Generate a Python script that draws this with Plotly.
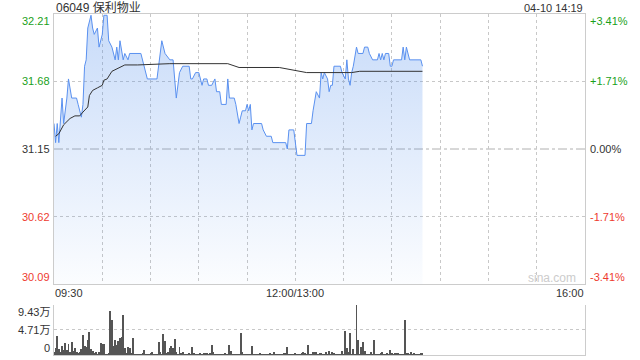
import plotly.graph_objects as go

# ---------------- data ----------------
prev_close = 31.15
price_min, price_max = 30.09, 32.21
pct_labels = ["+3.41%", "+1.71%", "0.00%", "-1.71%", "-3.41%"]
price_ticks = [32.21, 31.68, 31.15, 30.62, 30.09]
vol_ticks = [9.43, 4.71, 0]
vol_tick_text = ["9.43万", "4.71万", "0"]

# price breakpoints (time, price)
price_times = [
    "09:30", "09:31", "09:32", "09:33", "09:35", "09:36", "09:38", "09:39", "09:41", "09:44",
    "09:45", "09:47", "09:48", "09:49", "09:50", "09:51", "09:53", "09:54", "09:55", "09:57",
    "09:58", "10:00", "10:01", "10:03", "10:04", "10:06", "10:08", "10:09", "10:10", "10:11",
    "10:13", "10:14", "10:16", "10:17", "10:24", "10:28", "10:34", "10:37", "10:39", "10:42",
    "10:44", "10:46", "10:48", "10:50", "10:54", "10:55", "10:56", "10:58", "11:00", "11:01",
    "11:02", "11:03", "11:05", "11:06", "11:08", "11:10", "11:11", "11:13", "11:14", "11:17",
    "11:18", "11:19", "11:22", "11:23", "11:25", "11:26", "11:27", "11:29", "11:30", "11:31",
    "11:32", "11:33", "11:34", "11:39", "11:40", "11:42", "11:45", "11:46", "11:54", "11:55",
    "11:56", "11:59", "13:01", "13:06", "13:07", "13:10", "13:11", "13:13", "13:15", "13:16",
    "13:17", "13:18", "13:20", "13:21", "13:22", "13:23", "13:24", "13:28", "13:29", "13:31",
    "13:32", "13:33", "13:34", "13:35", "13:36", "13:38", "13:39", "13:42", "13:43", "13:45",
    "13:46", "13:48", "13:51", "13:52", "13:53", "13:54", "13:55", "13:56", "13:58", "13:59",
    "14:00", "14:01", "14:06", "14:07", "14:08", "14:09", "14:11", "14:18", "14:19",
]
price_values = [
    31.35, 31.20, 31.35, 31.20, 31.55, 31.35, 31.55, 31.70, 31.55, 31.55,
    31.50, 31.40, 31.50, 31.80, 31.85, 32.10, 32.20, 32.10, 32.05, 32.10,
    31.95, 32.05, 32.20, 32.20, 32.00, 31.95, 31.85, 31.95, 31.85, 32.00,
    31.85, 31.90, 31.85, 31.90, 31.90, 31.70, 31.70, 32.00, 31.90, 31.85,
    31.85, 31.55, 31.75, 31.80, 31.80, 31.70, 31.70, 31.75, 31.75, 31.70,
    31.65, 31.70, 31.70, 31.65, 31.65, 31.70, 31.60, 31.60, 31.50, 31.50,
    31.70, 31.55, 31.55, 31.50, 31.35, 31.40, 31.45, 31.45, 31.50, 31.45,
    31.50, 31.30, 31.35, 31.35, 31.30, 31.25, 31.25, 31.20, 31.20, 31.15,
    31.30, 31.30, 31.10, 31.10, 31.35, 31.35, 31.45, 31.60, 31.55, 31.75,
    31.70, 31.75, 31.70, 31.60, 31.65, 31.65, 31.80, 31.80, 31.75, 31.70,
    31.85, 31.70, 31.65, 31.75, 31.80, 31.95, 31.90, 31.90, 31.95, 31.95,
    31.90, 31.85, 31.85, 31.90, 31.85, 31.90, 31.85, 31.90, 31.90, 31.80,
    31.80, 31.85, 31.85, 31.95, 31.85, 31.95, 31.85, 31.85, 31.80,
]

# average price breakpoints
avg_times = [
    "09:31", "09:33", "09:36", "09:40", "09:43", "09:46", "09:48", "09:51", "09:52", "09:54",
    "09:57", "10:00", "10:01", "10:03", "10:06", "10:09", "10:12", "10:14", "10:22", "10:42",
    "11:18", "11:25", "11:50", "13:00", "13:07", "13:35", "13:40", "14:19",
]
avg_values = [
    31.25, 31.27, 31.34, 31.39, 31.41, 31.41, 31.44, 31.48, 31.57, 31.61,
    31.63, 31.65, 31.69, 31.70, 31.76, 31.78, 31.80, 31.81, 31.81, 31.82,
    31.82, 31.79, 31.79, 31.77, 31.75, 31.75, 31.76, 31.76,
]

# per-minute volume (万股), starting 09:30
volumes = [
    0.6, 1.4, 3.7, 1.2, 0.7, 1.7, 1.0, 2.3, 1.1, 2.2,
    0.7, 2.5, 0.9, 1.4, 0.6, 0.4, 0.6, 1.2, 3.9, 1.7,
    1.5, 2.9, 4.3, 1.2, 0.9, 0.4, 0.7, 0.25, 0.6, 2.3,
    2.1, 2.1, 0.25, 0.25, 0.4, 8.4, 6.6, 1.7, 2.9, 2.0,
    2.7, 3.2, 3.5, 7.6, 1.4, 0.4, 1.5, 1.4, 0.4, 3.2,
    0.25, 0.1, 0.25, 0.25, 0.3, 0.4, 1.0, 0.25, 0.1, 0.25,
    0.4, 0.6, 0.25, 0.1, 0.25, 2.6, 0.7, 0.25, 4.0, 2.7,
    0.4, 0.7, 1.4, 1.8, 1.4, 3.1, 0.6, 0.3, 1.6, 0.4,
    0.6, 0.25, 0.1, 0.25, 0.4, 0.3, 1.6, 0.4, 0.25, 0.25,
    0.25, 0.4, 0.25, 0.4, 0.4, 0.4, 0.25, 0.4, 1.9, 0.6,
    0.25, 0.25, 0.25, 0.3, 0.25, 0.25, 0.4, 0.25, 0.25, 1.9,
    0.9, 0.25, 0.25, 0.25, 0.25, 0.25, 4.2, 0.6, 0.25, 0.25,
    0.25, 0.25, 0.25, 1.7, 0.25, 0.3, 0.25, 0.25, 0.4, 0.25,
    0.25, 0.3, 0.25, 0.25, 0.4, 0.25, 0.25, 0.6, 0.25, 0.25,
    0.3, 0.25, 0.25, 0.4, 0.4, 1.5, 0.25, 0.3, 0.25, 0.25,
    0.4, 0.25, 0.25, 0.3, 0.4, 0.6, 0.4, 0.25, 1.9, 0.25,
    0.1, 0.6, 0.6, 0.6, 0.25, 0.4, 0.4, 0.25, 0.25, 0.7,
    0.1, 0.9, 0.25, 0.6, 0.4, 0.1, 0.25, 0.25, 0.25, 0.9,
    0.25, 4.6, 1.4, 0.7, 4.2, 0.25, 1.2, 0.25, 9.43, 2.9,
    0.25, 1.5, 2.5, 0.9, 0.25, 0.25, 0.25, 0.7, 0.25, 2.9,
    0.25, 0.25, 0.25, 0.4, 0.6, 0.25, 0.25, 0.4, 0.25, 1.0,
    0.4, 0.25, 0.4, 0.4, 0.4, 0.25, 0.25, 0.25, 6.6, 0.4,
    0.4, 0.25, 0.6, 0.25, 0.4, 0.25, 0.25, 0.25, 0.4, 0.4,
]


def to_min(t):
    h, m = map(int, t.split(":"))
    mins = h * 60 + m
    if mins >= 13 * 60:
        return mins - 13 * 60 + 150
    return mins - (9 * 60 + 30)


px = [to_min(t) for t in price_times]
ax = [to_min(t) for t in avg_times]
vx = list(range(len(volumes)))

GREEN = "#1a9f1a"
RED = "#ee3b2f"
DARK = "#333333"
GRID = "#c8c8c8"
FONT = "Liberation Sans, Arial, Noto Sans CJK SC, sans-serif"

fig = go.Figure()

fig.add_trace(go.Scatter(
    x=px, y=price_values, mode="lines",
    line=dict(color="#5a91f0", width=1),
    fill="tozeroy",
    fillgradient=dict(type="vertical", start=price_min, stop=price_max,
                      colorscale=[[0, "rgba(70,135,235,0.02)"], [1, "rgba(70,135,235,0.30)"]]),
    xaxis="x", yaxis="y", showlegend=False, hoverinfo="skip",
))
fig.add_trace(go.Scatter(
    x=ax, y=avg_values, mode="lines",
    line=dict(color="#333333", width=1),
    xaxis="x", yaxis="y", showlegend=False, hoverinfo="skip",
))
fig.add_trace(go.Bar(
    x=vx, y=volumes, width=0.6, marker=dict(color="#555555", line=dict(width=0)),
    xaxis="x2", yaxis="y2", showlegend=False, hoverinfo="skip",
))

xdom = [54 / 640, 585 / 640]
grid_x = list(range(30, 330, 30))

fig.update_layout(
    width=640, height=360,
    margin=dict(l=0, r=0, t=0, b=0),
    paper_bgcolor="white", plot_bgcolor="white",
    font=dict(family=FONT, size=11, color=DARK),
    xaxis=dict(domain=xdom, range=[0, 330], anchor="y",
               tickvals=grid_x, showticklabels=False, ticks="",
               showgrid=True, gridcolor=GRID, griddash="dot", gridwidth=1,
               showline=True, linecolor="#cccccc", linewidth=1, mirror=True,
               zeroline=False, fixedrange=True),
    yaxis=dict(domain=[76 / 360, 346 / 360], range=[price_min, price_max], anchor="x",
               tickvals=[price_ticks[1], price_ticks[3]], showticklabels=False, ticks="",
               showgrid=True, gridcolor=GRID, griddash="dot", gridwidth=1,
               showline=True, linecolor="#cccccc", linewidth=1, mirror=True,
               zeroline=False, fixedrange=True),
    xaxis2=dict(domain=xdom, range=[0, 330], anchor="y2",
                showticklabels=False, ticks="", showgrid=False,
                showline=True, linecolor="#cccccc", linewidth=1,
                zeroline=False, fixedrange=True),
    yaxis2=dict(domain=[5 / 360, 55.5 / 360], range=[0, vol_ticks[0]], anchor="x2",
                tickvals=[vol_ticks[1], vol_ticks[0]], showticklabels=False, ticks="",
                showgrid=True, gridcolor=GRID, griddash="dot", gridwidth=1,
                showline=True, linecolor="#cccccc", linewidth=1, mirror=True,
                zeroline=False, fixedrange=True),
    bargap=0,
)

# previous-close reference line
fig.add_shape(type="line", xref="x", yref="y", x0=0, x1=330, y0=prev_close, y1=prev_close,
              line=dict(color="#b0b0b0", width=1, dash="dashdot"), layer="below")

ann = []
left_colors = [GREEN, GREEN, DARK, RED, RED]
anchors = ["top", "middle", "middle", "middle", "bottom"]
for v, c, pct, a in zip(price_ticks, left_colors, pct_labels, anchors):
    ann.append(dict(x=51 / 640, xref="paper", y=v, yref="y", text=f"{v:.2f}",
                    xanchor="right", yanchor=a, showarrow=False,
                    font=dict(color=c, size=11), borderpad=0))
    ann.append(dict(x=589 / 640, xref="paper", y=v, yref="y", text=pct,
                    xanchor="left", yanchor=a, showarrow=False,
                    font=dict(color=c, size=11), borderpad=0))

vol_anchors = ["top", "middle", "bottom"]
for v, t, a in zip(vol_ticks, vol_tick_text, vol_anchors):
    ann.append(dict(x=51 / 640, xref="paper", y=v, yref="y2", text=t,
                    xanchor="right", yanchor=a, showarrow=False,
                    font=dict(color=DARK, size=11), borderpad=0))

# time labels
for t, xa in [("09:30", "left"), ("12:00/13:00", "center"), ("16:00", "right")]:
    xv = 150 if "/" in t else to_min(t) if t != "16:00" else 330
    ann.append(dict(x=xv, xref="x", y=1 - 293 / 360, yref="paper", text=t,
                    xanchor=xa, yanchor="middle", showarrow=False,
                    font=dict(color=DARK, size=11), borderpad=0))

ann.append(dict(x=55 / 640, xref="paper", y=1 - 7.5 / 360, yref="paper",
                text="06049 保利物业", xanchor="left", yanchor="middle",
                showarrow=False, font=dict(color=DARK, size=12), borderpad=0))
ann.append(dict(x=584 / 640, xref="paper", y=1 - 7.5 / 360, yref="paper",
                text="04-10 14:19", xanchor="right", yanchor="middle",
                showarrow=False, font=dict(color=DARK, size=11), borderpad=0))
ann.append(dict(x=552 / 640, xref="paper", y=1 - 278 / 360, yref="paper",
                text="sina.com", xanchor="center", yanchor="middle",
                showarrow=False, font=dict(color="#cccccc", size=12), borderpad=0))

fig.update_layout(annotations=ann)

fig.write_html("out.html")
